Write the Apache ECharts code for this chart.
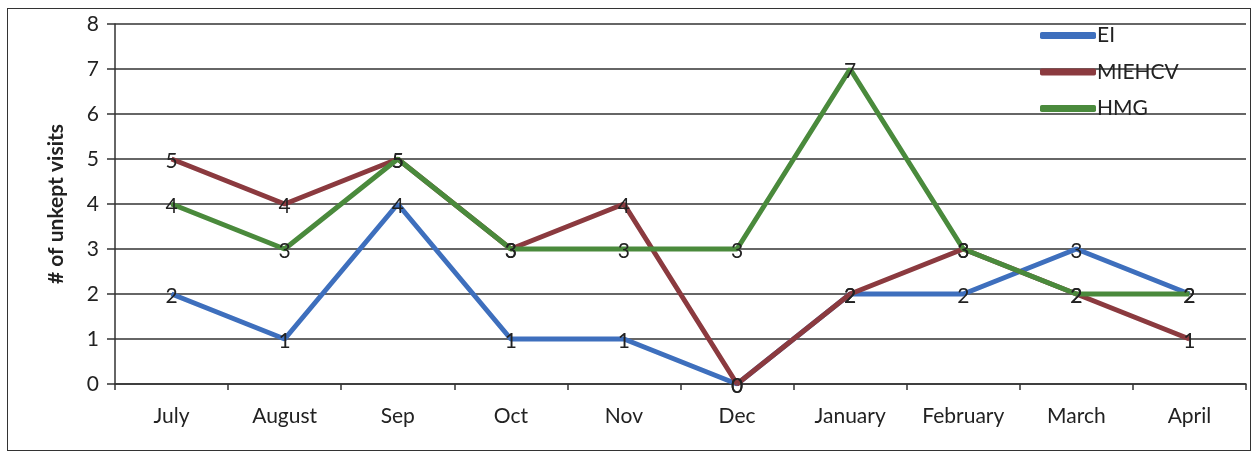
<!DOCTYPE html>
<html><head><meta charset="utf-8">
<script src="https://cdn.jsdelivr.net/npm/echarts@6/dist/echarts.min.js"></script>
<style>html,body{margin:0;padding:0;background:#fff}#wrap{position:absolute;left:7px;top:8px;width:1244px;height:443px;border:1.5px solid #333;box-sizing:border-box}#c{position:absolute;left:0;top:0;width:1257px;height:455px}</style>
</head><body><div id="wrap"></div><div id="c"></div>
<script>
const categories = ['July','August','Sep','Oct','Nov','Dec','January','February','March','April'];
const EI = [2,1,4,1,1,0,2,2,3,2];
const MIEHCV = [5,4,5,3,4,0,2,3,2,1];
const HMG = [4,3,5,3,3,3,7,3,2,2];
const yTicks = [0,1,2,3,4,5,6,7,8];

const font = 'Lato, "Open Sans", sans-serif';
function s(name, data, color){
  return {name, type:'line', data, symbol:'circle', symbolSize:1, showSymbol:true,
    lineStyle:{width:5,color}, itemStyle:{color},
    label:{show:true, position:'inside', offset:[0,2], color:'#222', fontSize:21, fontFamily:font}};
}
const chart = echarts.init(document.getElementById('c'));
chart.setOption({
  animation:false,
  grid:{left:115,right:11,top:24,bottom:71},
  legend:{orient:'vertical', left:1035, top:20, itemWidth:56, itemHeight:7, itemGap:15.5,
    icon:'roundRect', textStyle:{fontSize:21, fontFamily:font, color:'#222', padding:[0,0,0,-4]},
    data:['EI','MIEHCV','HMG']},
  xAxis:{type:'category', data:categories, boundaryGap:true,
    axisLine:{lineStyle:{color:'#333',width:1.5}},
    axisTick:{show:true, length:6, lineStyle:{color:'#333',width:1.5}},
    axisLabel:{fontSize:21, fontFamily:font, color:'#222', margin:22}},
  yAxis:{type:'value', min:yTicks[0], max:yTicks[yTicks.length-1], interval:1,
    name:'# of unkept visits', nameLocation:'middle', nameGap:48,
    nameTextStyle:{fontSize:21, fontWeight:'bold', fontFamily:font, color:'#222'},
    axisLine:{show:true, lineStyle:{color:'#333',width:1.5}},
    axisTick:{show:true, length:8, lineStyle:{color:'#333',width:1.5}},
    splitLine:{lineStyle:{color:'#333',width:1.5}},
    axisLabel:{fontSize:21, fontFamily:font, color:'#222', margin:16}},
  series:[s('EI',EI,'#3e6fbd'), s('MIEHCV',MIEHCV,'#8b3a3f'), s('HMG',HMG,'#4a8a3c')]
});
</script></body></html>
